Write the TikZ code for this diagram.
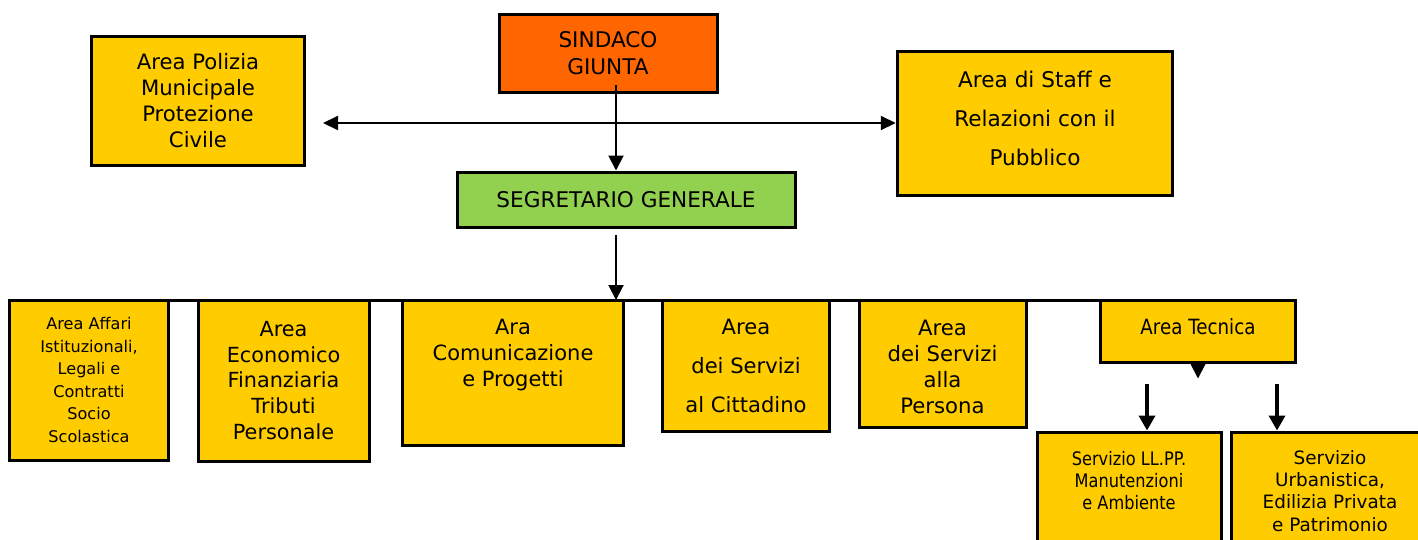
\documentclass[tikz,border=0pt]{standalone}
\usepackage{fontspec}
\setmainfont{DejaVu Sans}
\newfontfamily\narrowf[FakeStretch=0.87]{DejaVu Sans}
\usetikzlibrary{arrows.meta,calc}
\definecolor{ybox}{HTML}{FFCC00}
\definecolor{obox}{HTML}{FF6600}
\definecolor{gbox}{HTML}{92D050}
\begin{document}
\begin{tikzpicture}[x=1pt,y=-1pt,
  box/.style={draw=black, line width=3pt, inner sep=0pt, align=center, font=\fontsize{21.2}{26}\selectfont},
  txt/.style={inner sep=0pt, align=center},
  arr/.style={line width=2pt, -{Triangle[length=15pt,width=15pt]}},
  barr/.style={line width=3.5pt, -{Triangle[length=15pt,width=16pt]}},
  darr/.style={line width=2pt, {Triangle[length=15pt,width=14pt]}-{Triangle[length=15pt,width=14pt]}}]
\useasboundingbox (0,0) rectangle (1418,539);
\fill[white] (0,0) rectangle (1418,539);
\clip (0,0) rectangle (1418,539);

% bar line
\coordinate (barL) at (53,300);
\coordinate (barR) at (1296,300);
\draw[line width=3pt] (barL) -- (barR);

% top level
\node[box, fill=obox, minimum width=218pt, minimum height=78pt, font=\fontsize{21.6}{27}\selectfont] (sin) at (608,53) {SINDACO\\GIUNTA};
\node[box, fill=gbox, minimum width=338pt, minimum height=55pt, font=\fontsize{21.6}{27}\selectfont] (seg) at (626,199.5) {SEGRETARIO GENERALE};
\node[box, fill=ybox, minimum width=213.5pt, minimum height=129pt] (pol) at (198,100.5) {Area Polizia\\Municipale\\Protezione\\Civile};
\node[box, fill=ybox, minimum width=275.5pt, minimum height=144pt] (stf) at (1035,123) {};
\node[txt, font=\fontsize{21.6}{39}\selectfont] (stft) at ($(stf.center)+(0,-4.5)$) {Area di Staff e\\Relazioni con il\\Pubblico};

% areas
\node[box, fill=ybox, minimum width=158.5pt, minimum height=160pt, font=\fontsize{16.1}{22.6}\selectfont] (aff) at (89,380) {Area Affari\\Istituzionali,\\Legali e\\Contratti\\Socio\\Scolastica};
\node[box, fill=ybox, minimum width=171pt, minimum height=161pt, font=\fontsize{20.8}{25.8}\selectfont] (eco) at (283.5,380.5) {Area\\Economico\\Finanziaria\\Tributi\\Personale};
\node[box, fill=ybox, minimum width=221.6pt, minimum height=145pt] (com) at (513,372.5) {};
\node[txt, anchor=north, font=\fontsize{21}{26}\selectfont] (comt) at ($(com.north)+(0,20)$) {Ara\\Comunicazione\\e Progetti};
\node[box, fill=ybox, minimum width=167.6pt, minimum height=131pt, font=\fontsize{21.1}{38.8}\selectfont] (cit) at (746,366) {Area\\dei Servizi\\al Cittadino};
\node[box, fill=ybox, minimum width=167pt, minimum height=127pt] (per) at (942.5,363.5) {};
\node[txt, font=\fontsize{21.2}{26}\selectfont] (pert) at ($(per.center)+(0,3.5)$) {Area\\dei Servizi\\alla\\Persona};
\node[box, fill=ybox, minimum width=195.5pt, minimum height=62pt] (tec) at (1198,331) {};
\node[txt, font=\narrowf\fontsize{21}{26}\selectfont] (tect) at ($(tec.center)+(0,-4.5)$) {Area Tecnica};

% services
\node[box, fill=ybox, minimum width=184pt, minimum height=128pt] (llpp) at (1129,496) {};
\node[txt, anchor=north, font=\narrowf\fontsize{18.6}{22}\selectfont] (llppt) at ($(llpp.north)+(0,20.5)$) {Servizio LL.PP.\\Manutenzioni\\e Ambiente};
\node[box, fill=ybox, minimum width=198pt, minimum height=128pt] (urb) at (1330,496) {};
\node[txt, anchor=north, font=\fontsize{18.4}{22.3}\selectfont] (urbt) at ($(urb.north)+(0,19.5)$) {Servizio\\Urbanistica,\\Edilizia Privata\\e Patrimonio};

% connectors
\coordinate (s1) at (616,85);
\draw[arr] (s1) -- (s1 |- seg.north);
\coordinate (polarr) at (323,123);
\draw[darr] (polarr) -- (stf.west);
\coordinate (s2) at (616,235);
\draw[arr] (s2) -- (s2 |- barL);
\draw[arr] (tec.south) -- ++(0,15);
\coordinate (t1) at (1147,384);
\coordinate (t2) at (1277,384);
\draw[barr] (t1) -- (t1 |- llpp.north);
\draw[barr] (t2) -- (t2 |- urb.north);
\end{tikzpicture}
\end{document}
